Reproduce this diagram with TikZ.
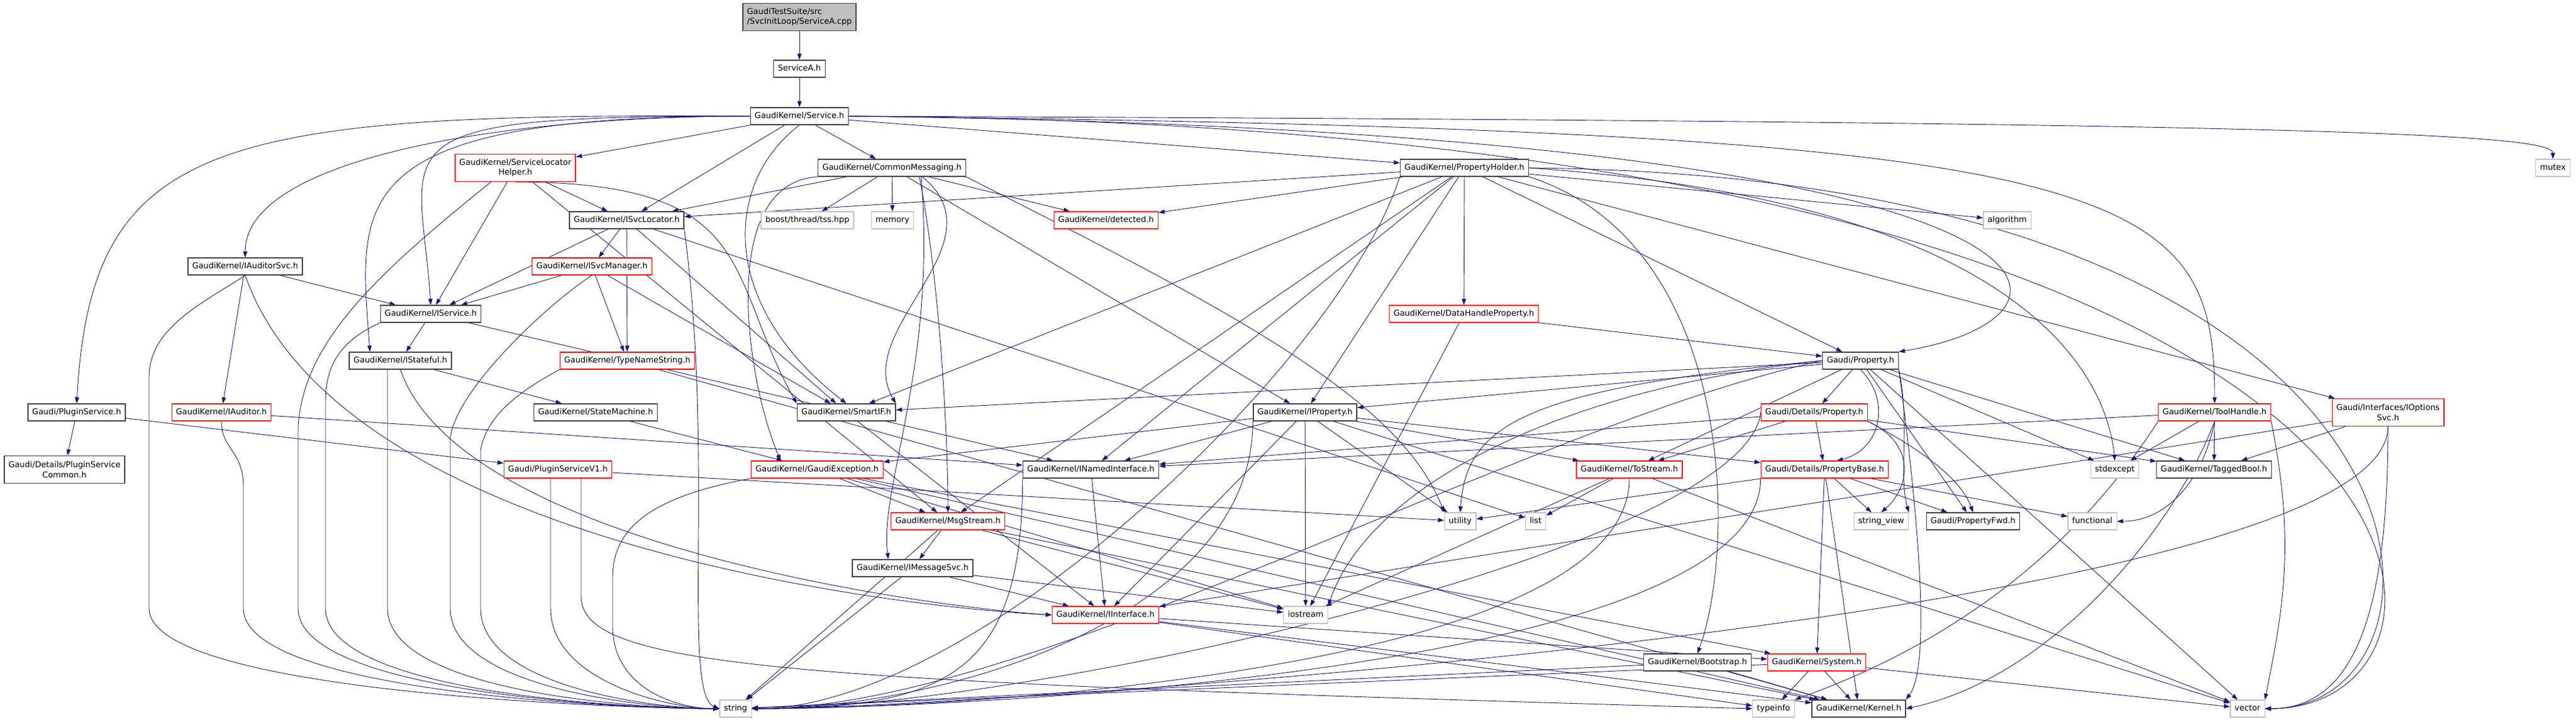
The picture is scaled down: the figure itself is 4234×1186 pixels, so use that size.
\documentclass[tikz,border=0pt]{standalone}
\usepackage{fontspec}
\setmainfont{DejaVu Sans}
\usetikzlibrary{arrows.meta}
\pgfdeclarelayer{edges}
\pgfsetlayers{edges,main}
\definecolor{edgeblue}{HTML}{191970}
\definecolor{boxgrey}{HTML}{BFBFBF}
\definecolor{boxdark}{HTML}{404040}
\definecolor{boxred}{HTML}{FF0000}
\tikzset{
  box/.style={rectangle, fill=white, minimum height=28pt, inner xsep=7pt, inner ysep=0pt,
    text height=9.8pt, text depth=2.8pt, font=\fontsize{13.3pt}{16.6pt}\selectfont},
  hbox/.style={box, draw=boxdark, line width=1.4pt},
  rbox/.style={box, draw=boxred, line width=1.2pt},
  sbox/.style={box, draw=boxgrey, line width=1.2pt},
  tall/.style={minimum height=45pt, align=center, text height={}, text depth={}},
  dep/.style={draw=edgeblue, line width=0.9pt, -{Triangle[length=10pt,width=7pt]}},
}
\begin{document}
\begin{tikzpicture}[x=1pt,y=-1pt]
\useasboundingbox (0,0) rectangle (4234,1186);

% file and its first includes
\node[hbox, fill=boxgrey, tall, align=left] (root) at (1314,28) {GaudiTestSuite/src\\/SvcInitLoop/ServiceA.cpp};
\node[hbox] (sA) at (1314,113) {ServiceA.h};
\node[hbox] (svc) at (1314,191) {GaudiKernel/Service.h};

% row 3
\node[rbox, tall] (slh) at (847,276) {GaudiKernel/ServiceLocator\\Helper.h};
\node[hbox] (cmsg) at (1466,276) {GaudiKernel/CommonMessaging.h};
\node[hbox] (pholder) at (2407,276) {GaudiKernel/PropertyHolder.h};
\node[sbox] (mutex) at (4196,276) {mutex};

% row 4
\node[hbox] (isvcloc) at (1030,362) {GaudiKernel/ISvcLocator.h};
\node[sbox] (boost) at (1327,362) {boost/thread/tss.hpp};
\node[sbox] (memory) at (1467,362) {memory};
\node[rbox] (detected) at (1818,362) {GaudiKernel/detected.h};
\node[sbox] (algorithm) at (3299,362) {algorithm};

% row 5
\node[hbox] (iaudsvc) at (403,438) {GaudiKernel/IAuditorSvc.h};
\node[rbox] (isvcmgr) at (973,438) {GaudiKernel/ISvcManager.h};
\node[hbox] (isvc) at (708,516) {GaudiKernel/IService.h};
\node[rbox] (datahp) at (2406,516) {GaudiKernel/DataHandleProperty.h};
\node[hbox] (istate) at (658,593) {GaudiKernel/IStateful.h};
\node[rbox] (tnstr) at (1031,593) {GaudiKernel/TypeNameString.h};
\node[hbox] (prop) at (3058,593) {Gaudi/Property.h};

% row 6
\node[hbox] (plugsvc) at (126,678) {Gaudi/PluginService.h};
\node[rbox] (iauditor) at (364,678) {GaudiKernel/IAuditor.h};
\node[hbox] (smachine) at (979,678) {GaudiKernel/StateMachine.h};
\node[hbox] (smartif) at (1391,678) {GaudiKernel/SmartIF.h};
\node[hbox] (iprop) at (2145,678) {GaudiKernel/IProperty.h};
\node[rbox] (detprop) at (2982,678) {Gaudi/Details/Property.h};
\node[rbox] (toolh) at (3640,678) {GaudiKernel/ToolHandle.h};
\node[rbox, tall] (iopts) at (3925,678) {Gaudi/Interfaces/IOptions\\Svc.h};

% row 7
\node[hbox, tall] (pscommon) at (106,772) {Gaudi/Details/PluginService\\Common.h};
\node[rbox] (psv1) at (917,772) {Gaudi/PluginServiceV1.h};
\node[rbox] (gexc) at (1343,772) {GaudiKernel/GaudiException.h};
\node[hbox] (inamed) at (1793,772) {GaudiKernel/INamedInterface.h};
\node[rbox] (tostream) at (2678,772) {GaudiKernel/ToStream.h};
\node[rbox] (propbase) at (2999,772) {Gaudi/Details/PropertyBase.h};
\node[sbox] (stdexcept) at (3476,772) {stdexcept};
\node[hbox] (taggedbool) at (3639,772) {GaudiKernel/TaggedBool.h};

% row 8
\node[rbox] (msgstream) at (1558,857) {GaudiKernel/MsgStream.h};
\node[sbox] (utility) at (2400,857) {utility};
\node[sbox] (list) at (2524,857) {list};
\node[sbox] (stringview) at (3092,857) {string\_view};
\node[hbox] (propfwd) at (3243,857) {Gaudi/PropertyFwd.h};
\node[sbox] (functional) at (3439,857) {functional};

% lower rows
\node[hbox] (imsgsvc) at (1500,934) {GaudiKernel/IMessageSvc.h};
\node[rbox] (iinterface) at (1817,1011) {GaudiKernel/IInterface.h};
\node[sbox] (iostream) at (2146,1011) {iostream};
\node[hbox] (bootstrap) at (2790,1089) {GaudiKernel/Bootstrap.h};
\node[rbox] (system) at (2986,1089) {GaudiKernel/System.h};
\node[sbox] (string) at (1209,1165) {string};
\node[sbox] (typeinfo) at (2915,1165) {typeinfo};
\node[hbox] (kernel) at (3055,1165) {GaudiKernel/Kernel.h};
\node[sbox] (vector) at (3694,1165) {vector};

\begin{pgfonlayer}{edges}
% plain includes
\foreach \a/\b in {root/sA, sA/svc, svc/cmsg, svc/pholder, svc/slh, svc/isvcloc,
  slh/isvcloc, slh/isvc, slh/msgstream,
  cmsg/isvcloc, cmsg/boost, cmsg/memory, cmsg/detected, cmsg/iprop,
  pholder/isvcloc, pholder/detected, pholder/algorithm, pholder/datahp, pholder/prop,
  pholder/iopts, pholder/iprop, pholder/msgstream, pholder/inamed, pholder/smartif,
  isvcloc/isvcmgr, isvcloc/isvc, isvcloc/tnstr, isvcloc/smartif, isvcloc/list,
  isvcmgr/isvc, isvcmgr/tnstr, isvcmgr/smartif,
  iaudsvc/isvc, iaudsvc/iauditor,
  isvc/istate, isvc/inamed, istate/smachine,
  smachine/gexc, tnstr/kernel, plugsvc/pscommon, plugsvc/psv1,
  iauditor/inamed, psv1/utility, datahp/prop, datahp/iostream,
  prop/detprop, prop/tostream, prop/iprop, prop/smartif, prop/stdexcept, prop/taggedbool,
  prop/propfwd, prop/vector,
  iprop/inamed, iprop/iinterface, iprop/gexc, iprop/iostream, iprop/utility,
  iprop/propbase, iprop/tostream, iprop/vector,
  detprop/tostream, detprop/propbase, detprop/taggedbool, detprop/inamed,
  toolh/stdexcept, toolh/taggedbool, toolh/inamed,
  iopts/taggedbool, iopts/iinterface,
  tostream/list, tostream/iostream, tostream/vector,
  propbase/utility, propbase/system, propbase/kernel, propbase/stringview, propbase/propfwd,
  propbase/functional,
  gexc/msgstream, gexc/kernel, gexc/system, gexc/iostream,
  msgstream/imsgsvc, msgstream/string, msgstream/iostream, msgstream/kernel,
  imsgsvc/iinterface, imsgsvc/string, imsgsvc/iostream,
  inamed/iinterface, iinterface/system, iinterface/kernel, iinterface/typeinfo,
  smartif/iinterface, system/typeinfo, system/kernel, system/vector, system/string,
  bootstrap/kernel, bootstrap/string}
  \draw[dep] (\a) -- (\b);

% string, reached from the left: long drops, then a sweep along the bottom
\draw[dep] (iaudsvc.south) .. controls (330,500) and (245,540) .. (245,620) -- (245,1000)
  .. controls (245,1140) and (1040,1165) .. (string.west);
\draw[dep] (iauditor.south) .. controls (364,740) and (400,740) .. (400,800) -- (400,1000)
  .. controls (400,1140) and (1040,1165) .. (string.west);
\draw[dep] ([xshift=-40pt]slh.south) .. controls (620,450) and (500,560) .. (490,700) -- (490,1000)
  .. controls (490,1140) and (1040,1165) .. (string.west);
\draw[dep] (isvc.south west) .. controls (560,560) and (535,600) .. (535,660) -- (535,1000)
  .. controls (535,1140) and (1040,1165) .. (string.west);
\draw[dep] ([xshift=-21pt]istate.south) -- (637,1000)
  .. controls (637,1140) and (1060,1165) .. (string.west);
\draw[dep] (isvcmgr.south) .. controls (900,500) and (750,640) .. (740,720) -- (740,1000)
  .. controls (740,1130) and (1060,1165) .. (string.west);
\draw[dep] (tnstr.south west) .. controls (860,640) and (800,680) .. (790,740) -- (790,1000)
  .. controls (790,1130) and (1080,1165) .. (string.west);
\draw[dep] ([xshift=-12pt]psv1.south) -- (905,1000)
  .. controls (905,1120) and (1100,1165) .. (string.west);
\draw[dep] (gexc.south west) .. controls (1050,820) and (1007,880) .. (1007,950) -- (1007,1030)
  .. controls (1007,1130) and (1110,1165) .. (string.west);
\draw[dep] (isvcloc.south east) .. controls (1175,750) and (1120,1140) .. (string.west);
% string, reached from the right
\foreach \a in {iprop.south west, inamed.south west, propbase.south west, tostream.south, iopts.south}
  \draw[dep] (\a) .. controls +(0,320) and +(320,0) .. (string.east);
\draw[dep] (pholder.south west) .. controls (2200,600) and (1600,1165) .. (string.east);
\draw[dep] (prop.west) .. controls (2500,700) and (1700,1165) .. (string.east);
\draw[dep] (detprop.west) .. controls (2870,900) and (1700,1165) .. (string.east);

% long routes out of Service.h
\draw[dep] (svc.west) .. controls (350,185) and (150,230) .. (plugsvc.north);
\draw[dep] (svc.west) .. controls +(-420,0) and +(0,-160) .. (iaudsvc.north);
\draw[dep] (svc.west) .. controls (600,190) and (690,230) .. (isvc.north);
\draw[dep] (svc.west) .. controls (560,190) and (590,330) .. ([xshift=-50pt]istate.north);
\draw[dep] (svc.south) .. controls (1190,300) and (1180,500) .. (smartif.north);
\draw[dep] (svc.east) .. controls (3800,200) and (4196,220) .. (mutex.north);
\draw[dep] (svc.east) .. controls (3500,215) and (3640,300) .. (toolh.north);
\draw[dep] (svc.east) .. controls (3480,215) and (3480,520) .. (prop.north east);
\draw[dep] (svc.east) .. controls (4127,205) and (4127,1165) .. (vector.east);

% routes round the boxes in between
\draw[dep] (slh.south) .. controls (1250,300) and (1190,450) .. (smartif.north west);
\draw[dep] ([xshift=50pt]cmsg.south) .. controls (1650,400) and (1400,540) .. (smartif.north east);
\draw[dep] ([xshift=45pt]cmsg.south) .. controls +(30,150) and +(0,-150) .. (msgstream.north);
\draw[dep] ([xshift=48pt]cmsg.south) .. controls (1540,600) and (1445,800) .. ([xshift=-40pt]imsgsvc.north);
\draw[dep] (cmsg.south west) .. controls (1180,300) and (1225,620) .. ([xshift=-60pt]gexc.north);
\draw[dep] (cmsg.south east) .. controls (2000,500) and (2300,650) .. (utility.north west);
\draw[dep] (pholder.south east) .. controls (2854,400) and (2854,900) .. (bootstrap.north);
\draw[dep] (pholder.east) .. controls (3300,330) and (3460,600) .. (stdexcept.north);
\draw[dep] (pholder.east) .. controls (4076,290) and (4076,1165) .. (vector.east);
\draw[dep] (prop.west) .. controls (2500,640) and (2410,700) .. (utility.north);
\draw[dep] (prop.west) .. controls (2560,640) and (2250,800) .. (iostream.north east);
\draw[dep] (prop.south) .. controls (3110,660) and (3090,740) .. ([xshift=20pt]propbase.north);
\draw[dep] (prop.south east) .. controls (3140,700) and (3120,780) .. (stringview.north east);
\draw[dep] (prop.south east) .. controls (3160,900) and (3170,1100) .. (kernel.north east);
\draw[dep] (detprop.south east) .. controls (3140,730) and (3220,780) .. (propfwd.north);
\draw[dep] (detprop.south east) .. controls (3150,730) and (3140,800) .. (stringview.north);
\draw[dep] (toolh.south) .. controls (3560,900) and (3350,1120) .. (kernel.east);
\draw[dep] (toolh.south west) .. controls (3350,1000) and (3060,1110) .. (typeinfo.north east);
\draw[dep] (toolh.south east) .. controls +(40,200) and +(30,-150) .. (vector.north east);
\draw[dep] (toolh.south) .. controls +(-20,100) and +(80,0) .. (functional.east);
\draw[dep] (iopts.south) .. controls +(0,300) and +(150,0) .. (vector.east);
\draw[dep] ([xshift=38pt]psv1.south) -- (955,980) .. controls (955,1100) and (1300,1120) .. (typeinfo.west);
\draw[dep] (iaudsvc.south) .. controls (560,900) and (1500,1000) .. (iinterface.west);
\draw[dep] (istate.south) .. controls (760,900) and (1550,1000) .. (iinterface.west);
\end{pgfonlayer}
\end{tikzpicture}
\end{document}
